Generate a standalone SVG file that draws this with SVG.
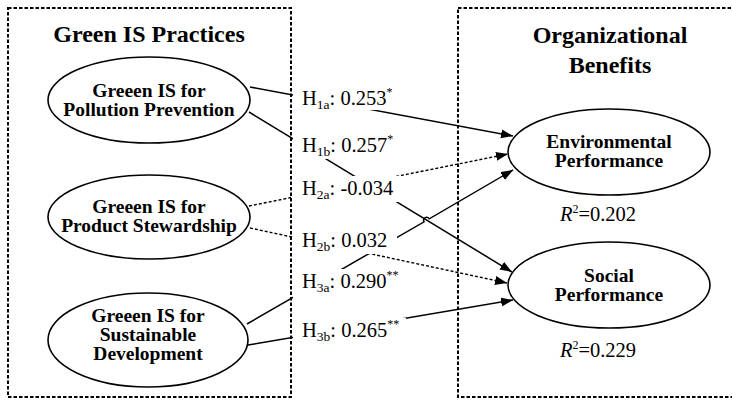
<svg xmlns="http://www.w3.org/2000/svg" width="732" height="401" viewBox="0 0 732 401">
<defs>
<style>
.border{fill:none;stroke:#000;stroke-width:2;stroke-dasharray:3.5 2}
.node{fill:#fff;stroke:#000;stroke-width:1.6}
.title{font-family:"Liberation Serif","Times New Roman",serif;font-weight:bold;font-size:24px;text-anchor:middle;fill:#000}
.nt{font-family:"Liberation Serif","Times New Roman",serif;font-weight:bold;font-size:19.5px;text-anchor:middle;fill:#000}
.lbl{font-family:"Liberation Serif","Times New Roman",serif;font-size:20.5px;fill:#000}
.sub{font-size:13.5px}
.sup{font-size:12px}
.r2{font-family:"Liberation Serif","Times New Roman",serif;font-size:20.5px;text-anchor:middle;fill:#000}
.mask{fill:#fff;stroke:none}
.solid{fill:none;stroke:#000;stroke-width:1.5;marker-end:url(#arr)}
.dot{fill:none;stroke:#000;stroke-width:1.4;stroke-dasharray:3 2;marker-end:url(#arr)}
</style>
<marker id="arr" markerUnits="userSpaceOnUse" markerWidth="13" markerHeight="10" refX="12" refY="4.5" orient="auto">
<path d="M0,0 L12,4.5 L0,9 z" fill="#000"/>
</marker>
</defs>
<rect width="732" height="401" fill="#fff"/>

<g id="panel-left">
<rect class="border" x="8" y="8" width="283" height="389"/>
<text class="title" x="149" y="42">Green IS Practices</text>
</g>
<g id="panel-right">
<rect class="border" x="458" y="8" width="290" height="389"/>
<text class="title" x="610" y="43">Organizational</text>
<text class="title" x="610" y="73">Benefits</text>
</g>

<g id="connectors">
<path id="c-h1a" class="solid" d="M250,87 L513,136"/>
<path id="c-h1b" class="solid" d="M249,112 L512,272"/>
<path id="c-h2a" class="dot" d="M249,206 L508,154"/>
<path id="c-h2b" class="dot" d="M250,228 L507,283"/>
<path id="c-h3a" class="solid" d="M247,324 L424.1,221.8 A3,3 0 0 1 429.3,218.8 L513,170"/>
<path id="c-h3b" class="solid" d="M248,345 L513,300"/>
</g>

<g id="node-pollution">
<ellipse class="node" cx="149" cy="100" rx="101" ry="43"/>
<text class="nt" x="149" y="96.5">Greeen IS for</text>
<text class="nt" x="149" y="115.5">Pollution Prevention</text>
</g>
<g id="node-product">
<ellipse class="node" cx="149" cy="217" rx="101" ry="42"/>
<text class="nt" x="149" y="213">Greeen IS for</text>
<text class="nt" x="149" y="232">Product Stewardship</text>
</g>
<g id="node-sustainable">
<ellipse class="node" cx="148" cy="340" rx="100" ry="47"/>
<text class="nt" x="148" y="322">Greeen IS for</text>
<text class="nt" x="148" y="341">Sustainable</text>
<text class="nt" x="148" y="360">Development</text>
</g>
<g id="node-environmental">
<ellipse class="node" cx="609" cy="152" rx="101" ry="43"/>
<text class="nt" x="609" y="148">Environmental</text>
<text class="nt" x="609" y="167">Performance</text>
<text class="r2" x="598" y="221"><tspan font-style="italic">R</tspan><tspan class="sup" dy="-8">2</tspan><tspan dy="8">=0.202</tspan></text>
</g>
<g id="node-social">
<ellipse class="node" cx="609" cy="285" rx="101" ry="43"/>
<text class="nt" x="609" y="282">Social</text>
<text class="nt" x="609" y="301">Performance</text>
<text class="r2" x="598" y="357"><tspan font-style="italic">R</tspan><tspan class="sup" dy="-8">2</tspan><tspan dy="8">=0.229</tspan></text>
</g>

<g id="label-h1a">
<rect class="mask" x="293" y="87" width="108" height="23"/>
<text class="lbl" x="302" y="105">H<tspan class="sub" dy="4">1a</tspan><tspan dy="-4">: 0.253</tspan><tspan class="sup" dy="-9">*</tspan></text>
</g>
<g id="label-h1b">
<rect class="mask" x="293" y="135" width="108" height="24"/>
<text class="lbl" x="302" y="152">H<tspan class="sub" dy="4">1b</tspan><tspan dy="-4">: 0.257</tspan><tspan class="sup" dy="-9">*</tspan></text>
</g>
<g id="label-h2a">
<rect class="mask" x="293" y="176" width="109" height="26"/>
<text class="lbl" x="302" y="195">H<tspan class="sub" dy="4">2a</tspan><tspan dy="-4">: -0.034</tspan></text>
</g>
<g id="label-h2b">
<rect class="mask" x="293" y="228" width="104" height="26"/>
<text class="lbl" x="302" y="247">H<tspan class="sub" dy="4">2b</tspan><tspan dy="-4">: 0.032</tspan></text>
</g>
<g id="label-h3a">
<rect class="mask" x="293" y="269" width="112" height="29"/>
<text class="lbl" x="302" y="288">H<tspan class="sub" dy="4">3a</tspan><tspan dy="-4">: 0.290</tspan><tspan class="sup" dy="-9">**</tspan></text>
</g>
<g id="label-h3b">
<rect class="mask" x="293" y="318" width="113" height="27"/>
<text class="lbl" x="302" y="337">H<tspan class="sub" dy="4">3b</tspan><tspan dy="-4">: 0.265</tspan><tspan class="sup" dy="-9">**</tspan></text>
</g>
</svg>
